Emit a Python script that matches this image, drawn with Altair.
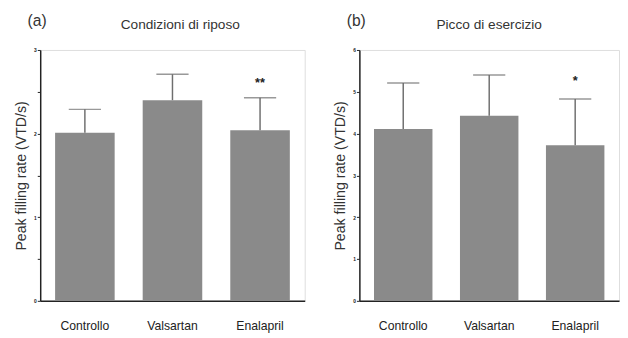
import altair as alt
import pandas as pd

groups = ["Controllo", "Valsartan", "Enalapril"]

rest_mean = [2.01, 2.40, 2.04]
rest_upper = [2.29, 2.71, 2.43]
rest_stars = ["", "", "**"]

peak_mean = [4.11, 4.43, 3.72]
peak_upper = [5.21, 5.40, 4.83]
peak_stars = ["", "", "*"]

FONT = "Liberation Sans"
BAR = "#8a8a8a"
ERR = "#6e6e6e"


def panel(mean, upper, stars, ymax, tick_vals, title, letter, width, star_off, title_dx):
    df = pd.DataFrame({
        "group": groups,
        "mean": mean,
        "upper": upper,
        "star": stars,
        "star_y": [u + star_off for u in upper],
    })
    x = alt.X("group:N", sort=groups, title=None,
              scale=alt.Scale(paddingInner=0.32, paddingOuter=0.17),
              axis=alt.Axis(labelAngle=0, ticks=False, labelFontSize=12.5,
                            labelColor="#222", labelPadding=19, labelFont=FONT,
                            domainColor="#222", domainWidth=1.5))
    y = alt.Y("mean:Q", title="Peak filling rate (VTD/s)",
              scale=alt.Scale(domain=[0, ymax], nice=False),
              axis=alt.Axis(values=tick_vals, grid=False, tickSize=3,
                            tickColor="#222", tickWidth=1,
                            labelFontSize=5, labelPadding=1, labelColor="#222",
                            labelFontWeight="bold",
                            labelExpr="datum.value % 1 == 0 ? datum.value : ''",
                            titleFontSize=14.5, titleFontWeight="normal",
                            titleColor="#333", titlePadding=5, titleFont=FONT,
                            domainColor="#222", domainWidth=1.5))
    base = alt.Chart(df)
    bars = base.mark_bar(color=BAR).encode(x=x, y=y)
    err = base.mark_rule(color=ERR, strokeWidth=1.5).encode(
        x=alt.X("group:N", sort=groups), y="mean:Q", y2="upper:Q")
    cap = base.mark_tick(color=ERR, size=33, thickness=1.5).encode(
        x=alt.X("group:N", sort=groups), y="upper:Q")
    star = base.mark_text(font=FONT, fontSize=13, fontWeight="bold",
                          color="#222", baseline="middle").encode(
        x=alt.X("group:N", sort=groups), y="star_y:Q", text="star:N")
    lab = alt.Chart(pd.DataFrame({"t": [letter]})).mark_text(
        font=FONT, fontSize=16, color="#333", align="left",
        baseline="middle").encode(x=alt.value(-13), y=alt.value(-30), text="t:N")
    ttl = alt.Chart(pd.DataFrame({"t": [title]})).mark_text(
        font=FONT, fontSize=14, color="#333", align="center",
        baseline="middle").encode(x=alt.value(width / 2 + title_dx), y=alt.value(-26), text="t:N")
    return alt.layer(bars, err, cap, star, lab, ttl).properties(
        width=width, height=257)


a = panel(rest_mean, rest_upper, rest_stars, 3,
          [0, 0.5, 1, 1.5, 2, 2.5, 3], "Condizioni di riposo", "(a)", 271, 0.17, 8)
b = panel(peak_mean, peak_upper, peak_stars, 6,
          [0, 1, 2, 3, 4, 5, 6], "Picco di esercizio", "(b)", 266, 0.42, 0)

chart = alt.hconcat(a, b, spacing=27).resolve_scale(y="independent").configure_view(
    stroke=None).configure(font=FONT).properties(padding={"left": 5, "top": 0, "right": 0, "bottom": 0})

chart.save("out.html", embed_options={"renderer": "svg", "actions": False})
